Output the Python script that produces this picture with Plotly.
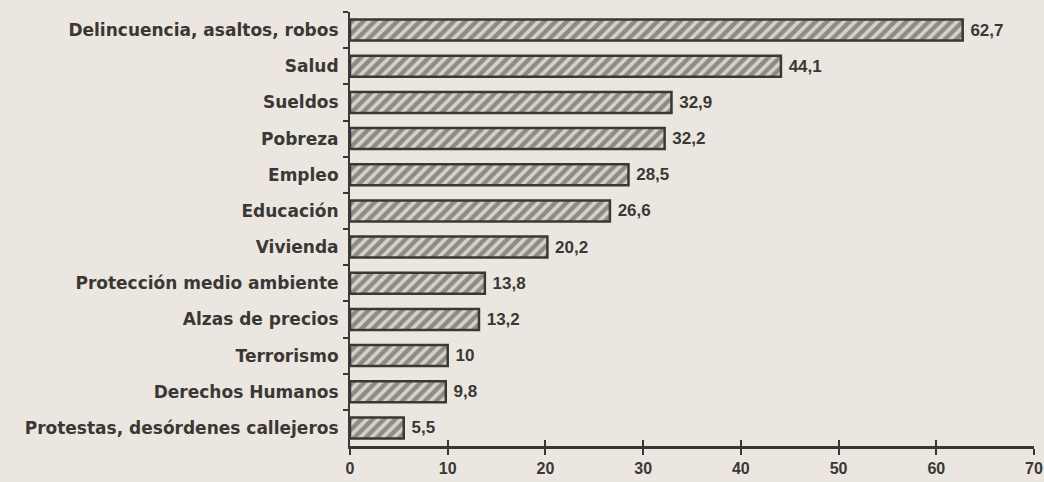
import plotly.graph_objects as go

categories = ["Delincuencia, asaltos, robos", "Salud", "Sueldos", "Pobreza", "Empleo",
              "Educación", "Vivienda", "Protección medio ambiente", "Alzas de precios",
              "Terrorismo", "Derechos Humanos", "Protestas, desórdenes callejeros"]
values = [62.7, 44.1, 32.9, 32.2, 28.5, 26.6, 20.2, 13.8, 13.2, 10, 9.8, 5.5]
value_labels = ["\u00a0" + f"{v:g}".replace(".", ",") for v in values]
x_ticks = [0, 10, 20, 30, 40, 50, 60, 70]

BG = "#ebe7e0"
INK = "#3a3834"
FONT = "Liberation Sans, Arial, sans-serif"
CAT_FONT = "DejaVu Sans, sans-serif"

fig = go.Figure()
fig.add_trace(go.Bar(
    x=values, y=categories, orientation="h",
    text=value_labels, textposition="outside", cliponaxis=False,
    textfont=dict(family=FONT, size=17, color=INK, weight="bold"),
    marker=dict(
        color="#d0ccc4",
        line=dict(color=INK, width=2.5),
        pattern=dict(shape="/", fgcolor="#46443f", bgcolor="#d6d2ca", size=8, solidity=0.55),
    ),
    width=0.58,
))
# invisible trace on an overlaid axis to give crossing tick marks on the x axis
fig.add_trace(go.Scatter(x=[0], y=[0], xaxis="x2", yaxis="y2", mode="markers",
                         marker=dict(opacity=0), hoverinfo="skip", showlegend=False))

fig.update_layout(
    width=1044, height=482,
    paper_bgcolor=BG, plot_bgcolor=BG,
    margin=dict(l=350, r=10, t=12, b=36),
    showlegend=False,
    font=dict(family=FONT, color=INK),
    xaxis=dict(range=[0, 70], tickvals=x_ticks, ticks="outside", ticklen=6, tickwidth=2,
               tickcolor=INK, showline=True, linecolor=INK, linewidth=3, showgrid=False,
               zeroline=False, automargin=False,
               tickfont=dict(family=FONT, size=16, color=INK, weight="bold")),
    yaxis=dict(autorange="reversed", ticks="outside", tickson="boundaries", ticklen=5,
               tickwidth=2, tickcolor=INK, showline=True, linecolor=INK, linewidth=2,
               showgrid=False, ticklabelstandoff=6, automargin=False,
               tickfont=dict(family=CAT_FONT, size=17, color=INK, weight="bold")),
    xaxis2=dict(range=[0, 70], tickvals=x_ticks, ticks="inside", ticklen=6, tickwidth=2,
                tickcolor=INK, overlaying="x", showticklabels=False, showgrid=False,
                zeroline=False, showline=False, automargin=False),
    yaxis2=dict(range=[0, 1], overlaying="y", visible=False),
)

fig.write_html("out.html", config={"displayModeBar": False},
               post_script="document.body.style.margin='0';document.body.style.background='#ebe7e0';")
